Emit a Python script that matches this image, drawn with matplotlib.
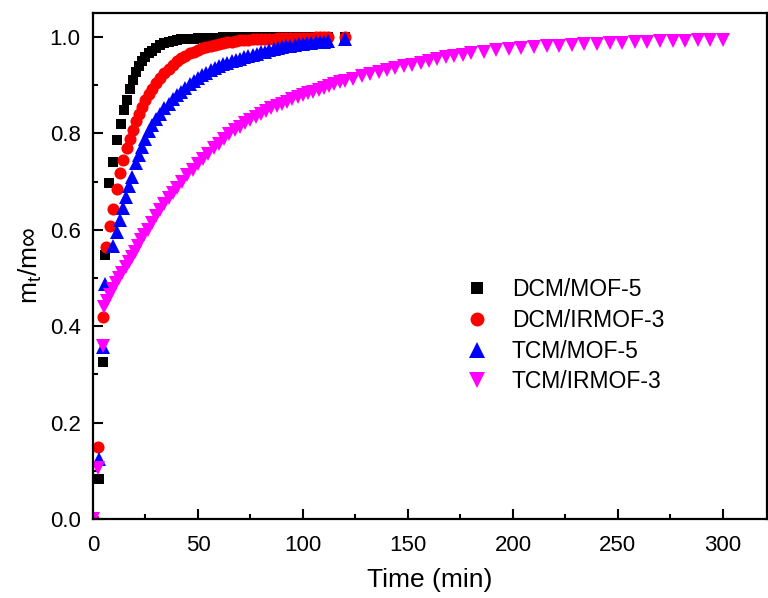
import matplotlib
matplotlib.use("Agg")
import matplotlib.pyplot as plt
from matplotlib.ticker import MultipleLocator, FormatStrFormatter

plt.rcParams['font.family'] = ['Liberation Sans', 'DejaVu Sans']
plt.rcParams['mathtext.fontset'] = 'custom'
plt.rcParams['mathtext.rm'] = 'Liberation Sans'
plt.rcParams['mathtext.it'] = 'Liberation Sans'

labels = ["DCM/MOF-5", "DCM/IRMOF-3", "TCM/MOF-5", "TCM/IRMOF-3"]

# shared dense time grid (min) for the three fast series
fast_grid_t = [28, 30, 32, 34, 36, 38, 40, 42, 44, 46, 48, 50, 52, 54, 56, 58, 60, 62, 64, 66, 68, 70,
               72, 74, 76, 78, 80, 82, 84, 86, 88, 90, 92, 94, 96, 98, 100, 102, 104, 106, 108, 110,
               112, 120]

dcm_mof5_t = [0, 3.0, 4.9, 5.9, 7.8, 9.3, 11.3, 13.2, 14.8, 16, 17.5, 19, 20.5, 22, 23.5, 25, 26.5] + fast_grid_t
dcm_mof5_v = [0.0, 0.083, 0.325, 0.547, 0.697, 0.741, 0.787, 0.820, 0.848, 0.869, 0.892, 0.911, 0.927,
              0.940, 0.950, 0.959, 0.966,
              0.972, 0.978, 0.983, 0.987, 0.990, 0.992, 0.994, 0.995, 0.996, 0.997, 0.997, 0.998,
              0.998, 0.999, 0.999, 0.999, 0.999, 1.0, 1.0, 1.0, 1.0, 1.0, 1.0, 1.0, 1.0, 1.0, 1.0,
              1.0, 1.0, 1.0, 1.0, 1.0, 1.0, 1.0, 1.0, 1.0, 1.0, 1.0, 1.0, 1.0, 1.0, 1.0, 1.0, 1.0]

dcm_irmof3_t = [0, 2.4, 4.7, 6.0, 7.9, 9.4, 11.3, 12.9, 14.4, 16, 17.5, 19, 20.5, 22, 23.5, 25, 26.5] + fast_grid_t
dcm_irmof3_v = [0.0, 0.150, 0.420, 0.565, 0.609, 0.644, 0.685, 0.717, 0.744, 0.769, 0.789, 0.808, 0.825,
                0.840, 0.854, 0.870, 0.882,
                0.893, 0.905, 0.916, 0.925, 0.934, 0.942, 0.950, 0.956, 0.961, 0.966, 0.970, 0.974,
                0.977, 0.980, 0.982, 0.984, 0.986, 0.987, 0.989, 0.990, 0.991, 0.993, 0.993, 0.994,
                0.995, 0.995, 0.996, 0.996, 0.997, 0.997, 0.998, 0.998, 0.998, 0.999, 0.999, 0.999,
                0.999, 0.999, 0.999, 1.0, 1.0, 1.0, 1.0, 1.0]

tcm_mof5_t = [0, 2.7, 4.8, 5.9, 9.7, 11.2, 12.7, 14.2, 15.7, 17.2, 18.7, 20.5, 22, 23.5, 25, 26.5] + fast_grid_t
tcm_mof5_v = [0.003, 0.124, 0.356, 0.488, 0.566, 0.595, 0.620, 0.645, 0.668, 0.690, 0.710, 0.738, 0.755,
              0.772, 0.788, 0.805,
              0.818, 0.830, 0.840, 0.852, 0.862, 0.871, 0.879, 0.887, 0.894, 0.902, 0.909, 0.915,
              0.921, 0.926, 0.931, 0.936, 0.940, 0.944, 0.947, 0.950, 0.952, 0.955, 0.958, 0.960,
              0.962, 0.965, 0.968, 0.970, 0.973, 0.975, 0.977, 0.979, 0.981, 0.982, 0.984, 0.985,
              0.986, 0.987, 0.988, 0.989, 0.990, 0.990, 0.991, 0.995]

tcm_irmof3_t = [0, 2.4, 4.6, 5.2, 6.5, 8, 9.5, 11, 12.5, 14, 15.5, 17, 18.5, 20, 21.5, 23, 24.5, 26,
                28, 30, 32, 34, 36, 38,
                40, 42.5, 45, 47.5, 50, 52.5, 55, 57.5, 60, 62.5, 65, 67.5, 70, 72.5, 75, 77.5, 80,
                82.5, 85, 87.5, 90, 92.5, 95, 97.5, 100, 102.5, 105, 107.5, 110, 112.5, 115, 117.5, 120,
                124, 128, 132, 136, 140, 144, 148, 152, 156, 160, 164, 168, 172, 176, 180,
                186, 192, 198, 204, 210, 216, 222, 228, 234, 240, 246, 252, 258, 264, 270, 276, 282,
                288, 294, 300]
tcm_irmof3_v = [0.0, 0.105, 0.358, 0.440, 0.453, 0.465, 0.477, 0.489, 0.500, 0.511, 0.522, 0.533, 0.543,
                0.555, 0.567, 0.578, 0.589, 0.600, 0.614, 0.628, 0.641, 0.654, 0.666, 0.677,
                0.687, 0.700, 0.713, 0.724, 0.736, 0.747, 0.758, 0.769, 0.779, 0.789, 0.798, 0.807,
                0.814, 0.821, 0.828, 0.834, 0.841, 0.847, 0.852, 0.857, 0.862, 0.866, 0.871, 0.875,
                0.879, 0.883, 0.887, 0.891, 0.895, 0.899, 0.902, 0.906, 0.909,
                0.914, 0.919, 0.923, 0.927, 0.931, 0.935, 0.939, 0.943, 0.947, 0.951, 0.954, 0.958,
                0.961, 0.963, 0.966,
                0.970, 0.973, 0.975, 0.977, 0.979, 0.981, 0.982, 0.984, 0.985, 0.986, 0.987, 0.988,
                0.989, 0.990, 0.991, 0.992, 0.992, 0.993, 0.993, 0.994]

fig = plt.figure(figsize=(7.68, 5.98), dpi=100)
ax = fig.add_axes([0.1211, 0.1321, 0.8776, 0.8462])

ax.plot(dcm_mof5_t, dcm_mof5_v, linestyle='none', marker='s', ms=7.4, mew=0, color='black', label=labels[0])
ax.plot(dcm_irmof3_t, dcm_irmof3_v, linestyle='none', marker='o', ms=8.7, mew=0, color='#ff0000', label=labels[1])
ax.plot(tcm_mof5_t, tcm_mof5_v, linestyle='none', marker='^', ms=9.8, mew=0, color='#0000ff', label=labels[2])
ax.plot(tcm_irmof3_t, tcm_irmof3_v, linestyle='none', marker='v', ms=9.8, mew=0, color='#ff00ff', label=labels[3])

ax.set_xlim(0, 321)
ax.set_ylim(0, 1.05)
ax.xaxis.set_major_locator(MultipleLocator(50))
ax.xaxis.set_minor_locator(MultipleLocator(25))
ax.yaxis.set_major_locator(MultipleLocator(0.2))
ax.yaxis.set_minor_locator(MultipleLocator(0.1))
ax.yaxis.set_major_formatter(FormatStrFormatter('%.1f'))
ax.tick_params(which='both', direction='in', top=False, right=False, width=1.5, labelsize=16)
ax.tick_params(which='major', length=7.2)
ax.tick_params(which='minor', length=3.6)
ax.tick_params(axis='x', which='major', pad=11.5)
ax.tick_params(axis='y', which='major', pad=9)
for s in ax.spines.values():
    s.set_linewidth(1.6)

ax.set_xlabel('Time (min)', fontsize=19, labelpad=9)
ax.set_ylabel('m$_\\mathregular{t}$/m\u221e', fontsize=19, labelpad=4)

leg = ax.legend(loc='upper left', bbox_to_anchor=(0.539, 0.494), frameon=False, fontsize=16.5,
                handlelength=1.0, handletextpad=1.03, labelspacing=0.336, borderaxespad=0,
                markerscale=1.15)

fig.savefig('out.png', dpi=100)
